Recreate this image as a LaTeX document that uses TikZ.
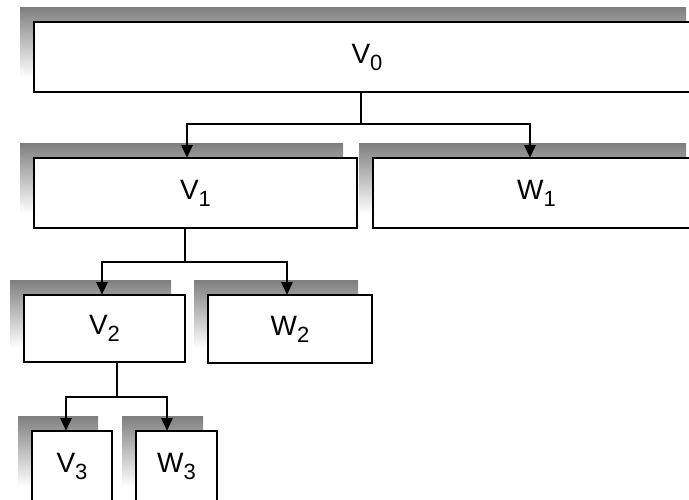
\documentclass[tikz,border=0pt]{standalone}
\usepackage{fontspec}
\setmainfont{Liberation Sans}
\usetikzlibrary{arrows.meta,backgrounds}
\definecolor{shade}{RGB}{165,165,165}
\newcommand\lbl[2]{#1\raisebox{-7pt}{\fontsize{22pt}{22pt}\selectfont #2}}
\begin{document}
\begin{tikzpicture}[x=1pt,y=-1pt,
  box/.style={draw=black, fill=white, line width=2.7pt, inner sep=0pt, outer sep=0pt,
    anchor=north west, font=\fontsize{28pt}{28pt}\selectfont},
  conn/.style={line width=2.7pt, draw=black},
  arr/.style={conn, -{Triangle[width=11pt,length=13pt]}}]
\useasboundingbox (0,0) rectangle (689,499);
\node[box, minimum width=666pt, minimum height=70pt] (V0) at (34,22) {\lbl{V}{0}};
\node[box, minimum width=323pt, minimum height=70pt] (V1) at (34,158) {\lbl{V}{1}};
\node[box, minimum width=327pt, minimum height=70pt] (W1) at (373,158) {\lbl{W}{1}};
\node[box, minimum width=161pt, minimum height=67pt] (V2) at (24,295) {\lbl{V}{2}};
\node[box, minimum width=164pt, minimum height=68pt] (W2) at (208,295) {\lbl{W}{2}};
\node[box, minimum width=80pt, minimum height=70pt] (V3) at (32,431) {\lbl{V}{3}};
\node[box, minimum width=81pt, minimum height=70pt] (W3) at (136,431) {\lbl{W}{3}};
\begin{scope}[on background layer]
  \fill[white] (0,0) rectangle (689,499);
  \foreach \n in {V0,V1,W1,V2,W2,V3,W3}
    \fill[shade] ([shift={(-14pt,14.5pt)}]\n.south west) rectangle ([shift={(-14pt,14.5pt)}]\n.north east);
\end{scope}
\coordinate (j0) at (361,124);
\draw[conn] (V0.south -| j0) -- (j0);
\draw[arr] (j0) -| ([xshift=-8.5pt]V1.north);
\draw[arr] (j0) -| ([xshift=-6.5pt]W1.north);
\coordinate (j1) at (185,262);
\draw[conn] (V1.south -| j1) -- (j1);
\draw[arr] (j1) -| ([xshift=-2.5pt]V2.north);
\draw[arr] (j1) -| ([xshift=-3pt]W2.north);
\coordinate (j2) at (117,397);
\draw[conn] (V2.south -| j2) -- (j2);
\draw[arr] (j2) -| ([xshift=-6pt]V3.north);
\draw[arr] (j2) -| ([xshift=-9.5pt]W3.north);
\end{tikzpicture}
\end{document}
